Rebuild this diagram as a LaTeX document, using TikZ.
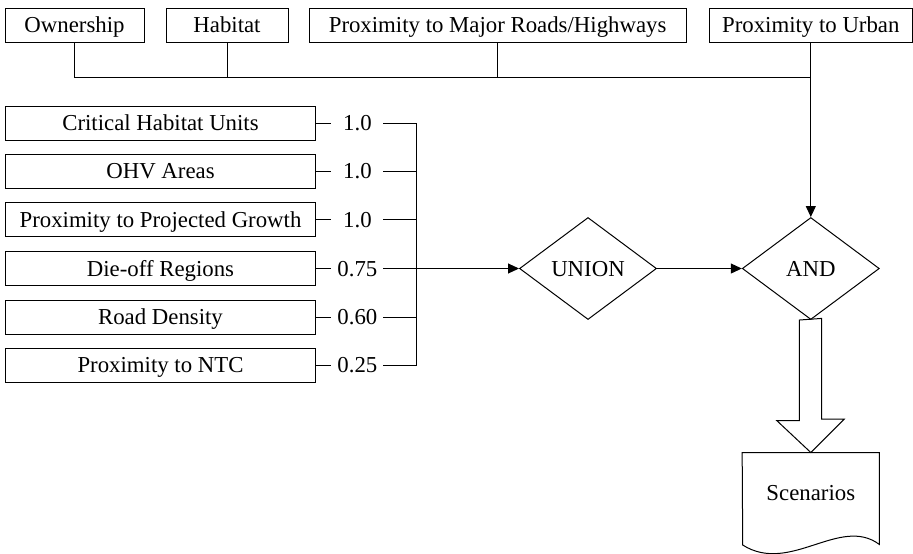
\documentclass[tikz,border=0pt]{standalone}
\usepackage{fontspec}
\setmainfont{Liberation Serif}
\usepackage{tikz}
\usetikzlibrary{shapes.geometric}
\usetikzlibrary{arrows.meta}
\tikzset{txt/.style={text height=10pt,text depth=2.5pt}}
\tikzset{box/.style={draw,txt,minimum height=17pt,inner sep=0pt}}
\tikzset{wt/.style={txt,minimum width=25.5pt,inner sep=0pt}}
\tikzset{gate/.style={draw,diamond,txt,minimum width=68.5pt,minimum height=51pt,inner sep=0pt}}
\tikzset{flow/.style={-{Triangle[length=5.5pt,width=5pt]}}}

\begin{document}
\begin{tikzpicture}[x=0.5pt,y=-0.5pt,line width=0.5pt,font=\fontsize{11.4}{13}\selectfont]
                \useasboundingbox (0,0) rectangle (913,553);

                % Constraints
                \node[box,minimum width=69.5pt] (own) at (74.5,25.3) {Ownership};
                \node[box,minimum width=61pt] (hab) at (227,25.3) {Habitat};
                \node[box,minimum width=188.5pt] (roads) at (497.6,25.3) {Proximity to Major Roads/Highways};
                \node[box,minimum width=101.5pt] (urban) at (810.8,25.3) {Proximity to Urban};
                \coordinate (bus) at (810.8,77.3);

                % Factors
                \node[box,minimum width=155pt] (crit) at (160.5,123) {Critical Habitat Units};
                \node[box,minimum width=155pt] (ohv) at (160.5,171) {OHV Areas};
                \node[box,minimum width=155pt] (growth) at (160.5,219.7) {Proximity to Projected Growth};
                \node[box,minimum width=155pt] (dieoff) at (160.5,268.5) {Die-off Regions};
                \node[box,minimum width=155pt] (density) at (160.5,317) {Road Density};
                \node[box,minimum width=155pt] (ntc) at (160.5,365.3) {Proximity to NTC};

                % Weights
                \node[wt] (wcrit) at (357.4,123) {1.0};
                \node[wt] (wohv) at (357.4,171) {1.0};
                \node[wt] (wgrowth) at (357.4,219.7) {1.0};
                \node[wt] (wdieoff) at (357.4,268.5) {0.75};
                \node[wt] (wdensity) at (357.4,317) {0.60};
                \node[wt] (wntc) at (357.4,365.3) {0.25};
                \coordinate (join) at (416.7,123);

                % Operators
                \node[gate] (union) at (588,268.5) {UNION};
                \node[gate] (and) at (810.8,268.5) {AND};

                % Output
                \node[txt,minimum width=68.15pt,minimum height=40pt,inner sep=0pt] (scen) at (810.8,493) {Scenarios};
                \draw (scen.north west) -- (scen.north east) -- ++(0,92)
                    .. controls (840,515) and (790,575) .. (742.7,545) -- cycle;

                % Constraint bus
                \draw (own.south) |- (bus);
                \draw (hab.south) -- (hab.south |- bus);
                \draw (roads.south) -- (roads.south |- bus);
                \draw[flow] (urban.south) -- (and.north);

                % Weighted links
                \draw (crit.east) -- (wcrit.west);
                \draw (ohv.east) -- (wohv.west);
                \draw (growth.east) -- (wgrowth.west);
                \draw (dieoff.east) -- (wdieoff.west);
                \draw (density.east) -- (wdensity.west);
                \draw (ntc.east) -- (wntc.west);
                \draw (wcrit.east) -- (wcrit.east -| join);
                \draw (wohv.east) -- (wohv.east -| join);
                \draw (wgrowth.east) -- (wgrowth.east -| join);
                \draw (wdensity.east) -- (wdensity.east -| join);
                \draw (wntc.east) -- (wntc.east -| join);
                \draw (join) -- (join |- wntc);
                \draw[flow] (wdieoff.east) -- (union.west);
                \draw[flow] (union.east) -- (and.west);

                % Big arrow
                \draw (and.south) ++(-11.4,0) -- ++(0,100.7) -- ++(-22.5,0) -- (scen.north)
                    -- ++(33.4,-33.4) -- ++(-22.5,0) -- ++(0,-100.7) -- cycle;
            \end{tikzpicture}
\end{document}
